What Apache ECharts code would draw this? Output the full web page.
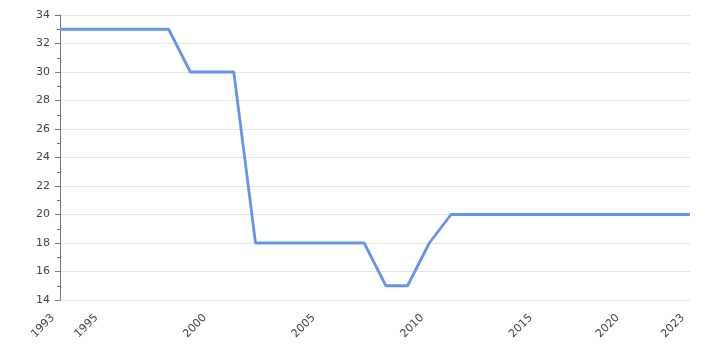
<!DOCTYPE html>
<html>
<head>
<meta charset="utf-8">
<script src="https://cdn.jsdelivr.net/npm/echarts@6/dist/echarts.min.js"></script>
<style>html,body{margin:0;padding:0;background:#fff;}#c{width:720px;height:350px;}</style>
</head>
<body>
<div id="c"></div>
<script>
// Years (one year between 2015 and 2020 absent in the source axis)
const years = [1993,1994,1995,1996,1997,1998,1999,2000,2001,2002,2003,2004,2005,2006,2007,2008,2009,2010,2011,2012,2013,2014,2015,2017,2018,2019,2020,2021,2022,2023];
const values = [33,33,33,33,33,33,30,30,30,18,18,18,18,18,18,15,15,18,20,20,20,20,20,20,20,20,20,20,20,20];
const yMin = 14, yMax = 34, yStep = 2;

const chart = echarts.init(document.getElementById('c'), null, {renderer: 'canvas'});
chart.setOption({
  animation: false,
  backgroundColor: '#fff',
  grid: {left: 60, right: 30, top: 15, bottom: 50, containLabel: false},
  xAxis: {
    type: 'category',
    data: years.map(String),
    boundaryGap: false,
    axisLine: {show: false},
    axisTick: {show: false},
    splitLine: {show: false},
    axisLabel: {
      rotate: 45,
      margin: 9,
      padding: [0, 10, 0, 0],
      fontSize: 11,
      color: '#444',
      fontFamily: 'DejaVu Sans',
      interval: function (i, v) {
        return i === 0 || i === years.length - 1 || (+v) % 5 === 0;
      }
    }
  },
  yAxis: {
    type: 'value',
    min: yMin, max: yMax, interval: yStep,
    axisLine: {show: true, lineStyle: {color: '#777', width: 1}},
    axisTick: {show: true, length: 5, lineStyle: {color: '#777'}},
    minorTick: {show: true, splitNumber: 2, length: 3, lineStyle: {color: '#777'}},
    splitLine: {show: true, lineStyle: {color: '#e3e3e3', width: 1}},
    axisLabel: {fontSize: 11, color: '#444', margin: 10, fontFamily: 'DejaVu Sans'}
  },
  series: [{
    type: 'line',
    data: values,
    showSymbol: false,
    symbol: 'none',
    lineStyle: {color: '#6495ED', width: 2.8},
    itemStyle: {color: '#6495ED'}
  }]
});
</script>
</body>
</html>
